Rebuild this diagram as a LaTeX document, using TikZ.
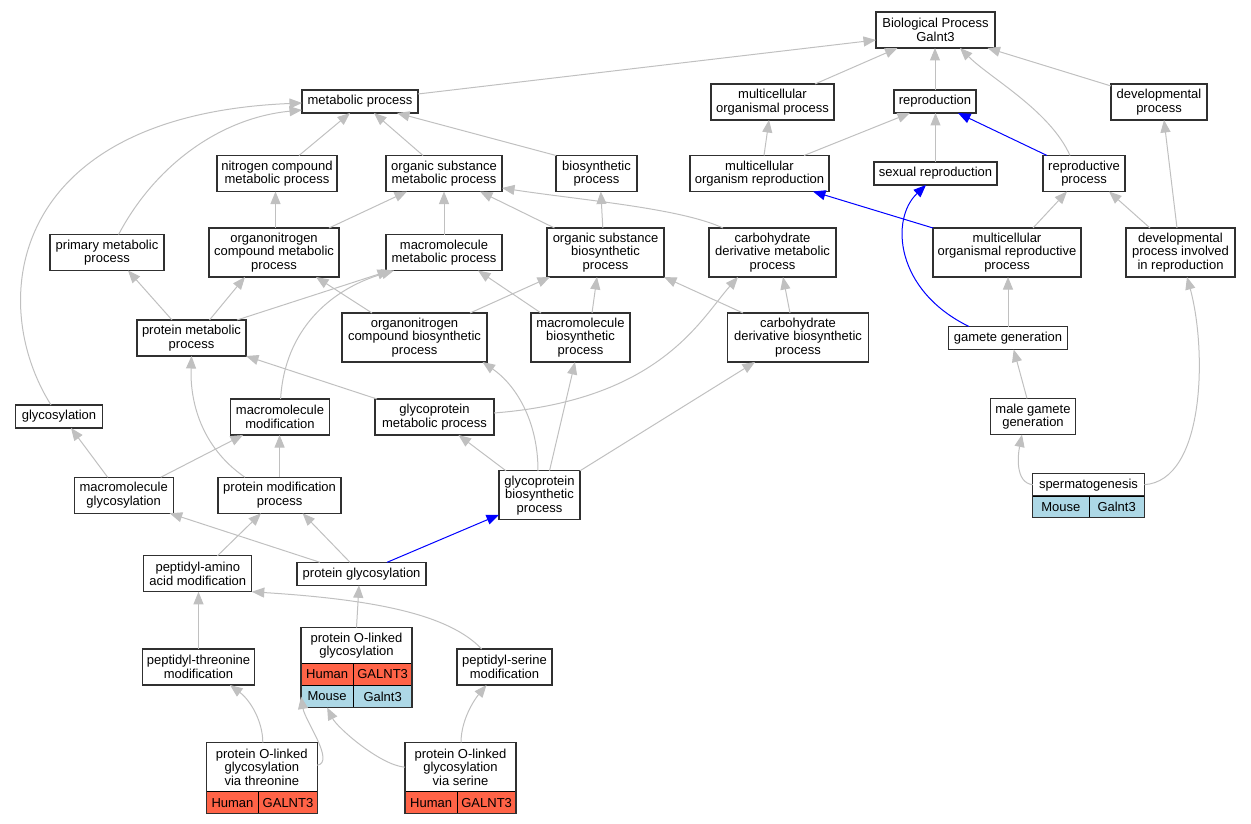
\documentclass[tikz,border=0pt]{standalone}
\usepackage{fontspec}
\setmainfont{Liberation Sans}
\usetikzlibrary{arrows.meta,calc}
\definecolor{edgegray}{HTML}{C0C0C0}
\definecolor{tomatoc}{HTML}{FF6347}
\definecolor{lblue}{HTML}{ADD8E6}
\definecolor{boxline}{HTML}{303030}
\begin{document}
\begin{tikzpicture}[x=1pt,y=-1pt,
  box/.style={draw=boxline, line width=1.3pt, fill=white, inner sep=0pt, outer sep=0pt, align=center, font=\fontsize{13}{13.5}\selectfont},
  bx/.style 2 args={box, minimum width=#1pt, minimum height=#2pt},
  cell/.style={draw=black, line width=0.9pt, inner sep=0pt, outer sep=0pt, anchor=north west, minimum height=22pt, font=\fontsize{13}{13.5}\selectfont},
  hum/.style={cell, fill=tomatoc, minimum width=#1pt},
  mou/.style={cell, fill=lblue, minimum width=#1pt},
  tborder/.style={draw=boxline, line width=1.3pt},
  edge/.style={draw=edgegray, line width=1pt, -{Triangle[length=12.5pt,width=10pt]}},
  bedge/.style={draw=blue, line width=1pt, -{Triangle[length=12.5pt,width=10pt]}}
]
\useasboundingbox (0,0) rectangle (1251,824);

% ---- nodes ----
\node[bx={119}{36}] (bp) at (935.5,30) {Biological Process\\Galnt3};
\node[bx={116}{23}] (met) at (360,101.5) {metabolic process};
\node[bx={123}{36}] (mop) at (772.5,102) {multicellular\\organismal process};
\node[bx={82}{23}] (rep) at (935,101.5) {reproduction};
\node[bx={96}{36}] (dev) at (1159,102) {developmental\\process};
\node[bx={120}{36}] (ncm) at (277,173.5) {nitrogen compound\\metabolic process};
\node[bx={116}{36}] (osm) at (444,173.5) {organic substance\\metabolic process};
\node[bx={81}{36}] (bio) at (596.5,173.5) {biosynthetic\\process};
\node[bx={139}{36}] (mor) at (759.5,173.5) {multicellular\\organism reproduction};
\node[bx={123}{23}] (sex) at (935.5,173.5) {sexual reproduction};
\node[bx={82}{36}] (rpp) at (1084,173.5) {reproductive\\process};
\node[bx={114}{36}] (pri) at (107,252.5) {primary metabolic\\process};
\node[bx={130}{49}] (ocm) at (274,252.5) {organonitrogen\\compound metabolic\\process};
\node[bx={116}{36}] (mmp) at (444,252.5) {macromolecule\\metabolic process};
\node[bx={117}{49}] (osb) at (605.5,252.5) {organic substance\\biosynthetic\\process};
\node[bx={127}{49}] (cdm) at (772.5,252.5) {carbohydrate\\derivative metabolic\\process};
\node[bx={148}{49}] (mrp) at (1007,252.5) {multicellular\\organismal reproductive\\process};
\node[bx={109}{49}] (dpr) at (1180.5,252.5) {developmental\\process involved\\in reproduction};
\node[bx={109}{36}] (prm) at (191.5,338) {protein metabolic\\process};
\node[bx={145}{49}] (ocb) at (414.5,337.5) {organonitrogen\\compound biosynthetic\\process};
\node[bx={99}{49}] (mbp) at (580.5,337.5) {macromolecule\\biosynthetic\\process};
\node[bx={141}{49}] (cdb) at (798,337.5) {carbohydrate\\derivative biosynthetic\\process};
\node[bx={119}{23}] (gam) at (1008,338) {gamete generation};
\node[bx={87}{23}] (gly) at (59,416.5) {glycosylation};
\node[bx={99}{36}] (mmo) at (280,417) {macromolecule\\modification};
\node[bx={119}{36}] (gmp) at (434.5,417) {glycoprotein\\metabolic process};
\node[bx={85}{36}] (mgg) at (1033,416.5) {male gamete\\generation};
\node[bx={99}{36}] (mgl) at (123.7,495.3) {macromolecule\\glycosylation};
\node[bx={123}{36}] (pmp) at (279.6,495.3) {protein modification\\process};
\node[bx={81}{49}] (gbp) at (539.5,495.3) {glycoprotein\\biosynthetic\\process};
\node[bx={108}{36}] (paa) at (197.8,573.8) {peptidyl-amino\\acid modification};
\node[bx={129}{23}] (pgl) at (361.6,573.8) {protein glycosylation};
\node[bx={112}{36}] (ptm) at (198.5,667) {peptidyl-threonine\\modification};
\node[bx={95}{36}] (psm) at (504.5,667) {peptidyl-serine\\modification};

% ---- tables ----
\node[bx={111}{36}] (polh) at (356.5,645.5) {protein O-linked\\glycosylation};
\node[hum=52.3] (pol1a) at (polh.south west) {Human};
\node[hum=58.7] (pol1b) at (pol1a.north east) {GALNT3};
\node[mou=52.3] (pol2a) at (pol1a.south west) {Mouse};
\node[mou=58.7] (pol2b) at (pol2a.north east) {Galnt3};
\draw[tborder] (polh.north west) rectangle (pol2b.south east);

\node[bx={111}{49}] (poth) at (261.8,767.2) {protein O-linked\\glycosylation\\via threonine};
\node[hum=52.4] (pot1a) at (poth.south west) {Human};
\node[hum=58.6] (pot1b) at (pot1a.north east) {GALNT3};
\draw[tborder] (poth.north west) rectangle (pot1b.south east);

\node[bx={111}{49}] (posh) at (460.5,767.2) {protein O-linked\\glycosylation\\via serine};
\node[hum=52.3] (pos1a) at (posh.south west) {Human};
\node[hum=58.7] (pos1b) at (pos1a.north east) {GALNT3};
\draw[tborder] (posh.north west) rectangle (pos1b.south east);

\node[bx={111.6}{22.7}] (speh) at (1088.5,484.7) {spermatogenesis};
\node[mou=56.3, minimum height=21.3pt] (spe1a) at (speh.south west) {Mouse};
\node[mou=55.3, minimum height=21.3pt] (spe1b) at (spe1a.north east) {Galnt3};
\draw[tborder] (speh.north west) rectangle (spe1b.south east);

% ---- edges ----
\draw[edge] ($(met.east)+(0,-7.5)$) -- ($(bp.west)+(0,10)$);
\draw[edge] ($(mop.north)+(42.5,0)$) -- ($(bp.south)+(-38,0)$);
\draw[edge] (rep.north) -- (rep.north |- bp.south);
\draw[edge] ($(rpp.north)+(-14,0)$) .. controls +(-20,-45) and +(30,30) .. ($(bp.south)+(24.5,0)$);
\draw[edge] ($(dev.north west)+(0,2)$) -- ($(bp.south)+(52,0)$);
\draw[edge] ($(ncm.north)+(22,0)$) -- ($(met.south)+(-10,0)$);
\draw[edge] ($(osm.north)+(-21,0)$) -- ($(met.south)+(14,0)$);
\draw[edge] (bio.north west) -- ($(met.south)+(37,0)$);
\draw[edge] ($(pri.north)+(11.6,0)$) .. controls +(36.4,-69) and +(-82,8) .. ($(met.west)+(0,8.5)$);
\draw[edge] ($(gly.north)+(-8,0)$) .. controls +(-66,-105) and +(-292,12) .. ($(met.west)+(0,1.5)$);
\draw[edge] ($(mor.north)+(4.5,0)$) -- ($(mop.south)+(-3.5,0)$);
\draw[edge] ($(mor.north)+(44.5,0)$) -- ($(rep.south)+(-25,0)$);
\draw[edge] (sex.north) -- (sex.north |- rep.south);
\draw[bedge] ($(rpp.north)+(-37,0)$) -- ($(rep.south)+(23,0)$);
\draw[edge] ($(dpr.north)+(-3.5,0)$) -- ($(dev.south)+(5,0)$);
\draw[edge] ($(mrp.north)+(26,0)$) -- ($(rpp.south)+(-17,0)$);
\draw[edge] ($(dpr.north)+(-30.5,0)$) -- ($(rpp.south)+(25,0)$);
\draw[bedge] (mrp.north west) -- ($(mor.south)+(53.5,0)$);
\draw[bedge] ($(gam.north)+(-39,0)$) .. controls +(-74,-36) and +(-36,34) .. ($(sex.south)+(-9.5,0)$);
\draw[edge] ($(ocm.north)+(1.5,0)$) -- ($(ncm.south)+(-1.5,0)$);
\draw[edge] ($(ocm.north)+(55,0)$) -- ($(osm.south)+(-37,0)$);
\draw[edge] (mmp.north) -- (osm.south);
\draw[edge] ($(osb.north)+(-51,0)$) -- ($(osm.south)+(36,0)$);
\draw[edge] ($(osb.north)+(-2.7,0)$) -- ($(bio.south)+(4.3,0)$);
\draw[edge] ($(cdm.north)+(-49.5,0)$) .. controls +(-43,-20) and +(78,12) .. ($(osm.east)+(0,14.5)$);
\draw[edge] ($(prm.north)+(-19.5,0)$) -- ($(pri.south)+(21,0)$);
\draw[edge] ($(prm.north)+(18,0)$) -- ($(ocm.south)+(-29,0)$);
\draw[edge] ($(prm.north)+(45.5,0)$) -- ($(mmp.south)+(-54,0)$);
\draw[edge] ($(mmo.north)+(0.6,0)$) .. controls +(4,-69) and +(-64,19) .. ($(mmp.south)+(-50,0)$);
\draw[edge] ($(ocb.north)+(-42.5,0)$) -- ($(ocm.south)+(42,0)$);
\draw[edge] ($(ocb.north)+(55.5,0)$) -- ($(osb.south)+(-55.5,0)$);
\draw[edge] ($(mbp.north)+(-39.5,0)$) -- ($(mmp.south)+(34,0)$);
\draw[edge] ($(mbp.north)+(11.5,0)$) -- ($(osb.south)+(-8.5,0)$);
\draw[edge] ($(cdb.north)+(-8,0)$) -- ($(cdm.south)+(10.5,0)$);
\draw[edge] ($(cdb.north)+(-55,0)$) -- (osb.south east);
\draw[edge] ($(gmp.east)+(0,-4)$) .. controls +(166,-13) and +(-38,43) .. ($(cdm.south)+(-34.5,0)$);
\draw[edge] ($(gmp.north west)+(2,0)$) -- (prm.south east);
\draw[edge] (gam.north) -- (gam.north |- mrp.south);
\draw[edge] ($(mgg.north)+(-6,0)$) -- ($(gam.south)+(5.7,0)$);
\draw[edge] (speh.west) .. controls +(-18,-2) and +(-4,20) .. ($(mgg.south)+(-11,0)$);
\draw[edge] (speh.east) .. controls +(61,-4) and +(20,73) .. ($(dpr.south)+(6.5,0)$);
\draw[edge] ($(mgl.north)+(-16,0)$) -- ($(gly.south)+(12,0)$);
\draw[edge] ($(mgl.north)+(37,0)$) -- ($(mmo.south)+(-37,0)$);
\draw[edge] (pmp.north) -- (pmp.north |- mmo.south);
\draw[edge] ($(pmp.north)+(-34.6,0)$) .. controls +(-45,-31) and +(-1.5,44) .. (prm.south);
\draw[edge] ($(gbp.north)+(-33.5,0)$) -- ($(gmp.south)+(24,0)$);
\draw[edge] ($(gbp.north)+(-1.5,0)$) .. controls +(0,-51) and +(32.5,22.3) .. ($(ocb.south)+(68,0)$);
\draw[edge] ($(gbp.north)+(10,0)$) -- ($(mbp.south)+(-5.5,0)$);
\draw[edge] (gbp.north east) -- ($(cdb.south)+(-43,0)$);
\draw[edge] ($(pgl.north)+(-41.6,0)$) -- ($(mgl.south)+(46,0)$);
\draw[edge] ($(pgl.north)+(-11.6,0)$) -- ($(pmp.south)+(23,0)$);
\draw[bedge] ($(pgl.north)+(25.5,0)$) -- ($(gbp.south west)+(0,-5)$);
\draw[edge] ($(paa.north)+(19.6,0)$) -- ($(pmp.south)+(-18.6,0)$);
\draw[edge] (polh.north) -- ($(pgl.south)+(-2.6,0)$);
\draw[edge] (ptm.north) -- (ptm.north |- paa.south);
\draw[edge] ($(psm.north)+(-22.8,0)$) .. controls +(-31.7,-33.3) and +(128.2,8) .. (paa.south east);
\draw[edge] ($(poth.north)+(1,0)$) .. controls +(0,-22) and +(20,15) .. ($(ptm.south)+(31.5,0)$);
\draw[edge] ($(poth.east)+(0,-2)$) .. controls +(18,-3) and +(4,24) .. (pol2a.west);
\draw[edge] (posh.west) .. controls +(-25,-2) and +(10,20) .. (pol2a.south);
\draw[edge] ($(posh.north)+(0.5,0)$) .. controls +(0,-25) and +(-10,12) .. ($(psm.south)+(-18,0)$);
\end{tikzpicture}
\end{document}
